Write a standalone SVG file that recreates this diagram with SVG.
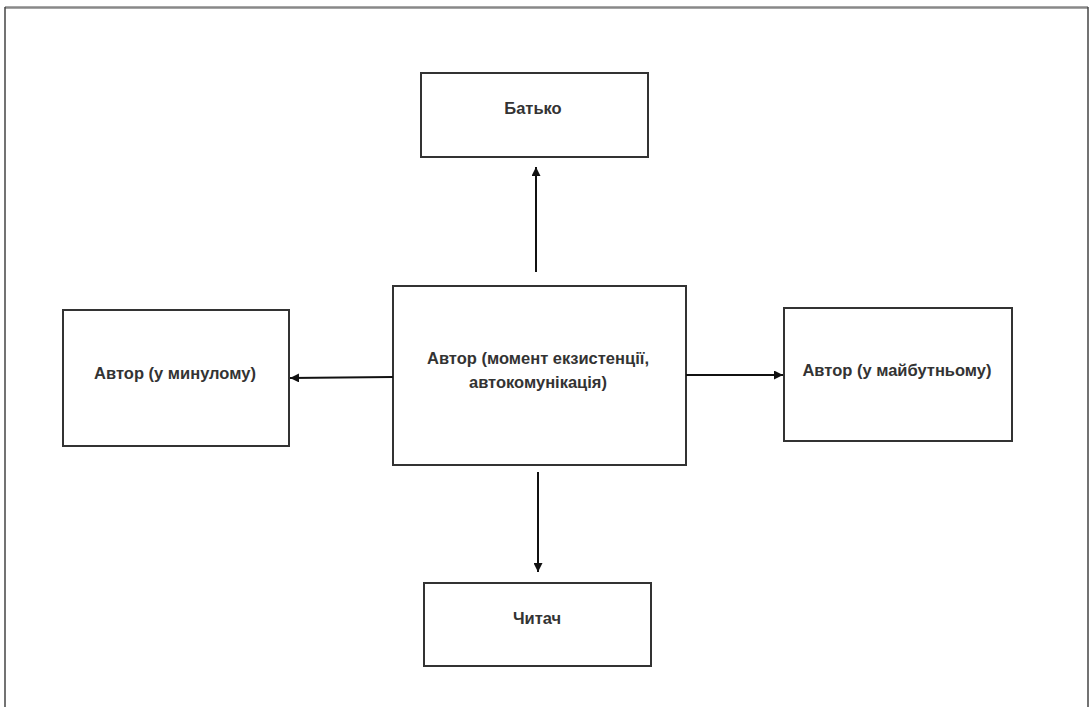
<svg xmlns="http://www.w3.org/2000/svg" width="1091" height="707" viewBox="0 0 1091 707">
<defs>
<marker id="arr" viewBox="0 0 10 10" refX="10" refY="5" markerWidth="10" markerHeight="9" markerUnits="userSpaceOnUse" orient="auto">
<path d="M0,0 L10,5 L0,10 z" fill="#111"/>
</marker>
<style>
.box{fill:#fff;stroke:#333;stroke-width:2}
.lbl{font-family:"Liberation Sans",Arial,sans-serif;font-size:16.5px;font-weight:bold;fill:#333;text-anchor:middle}
.con{stroke:#111;stroke-width:2;fill:none}
</style>
</defs>
<rect width="1091" height="707" fill="#fff"/>
<g id="frame">
<line x1="5" y1="7.5" x2="1088" y2="7.5" stroke="#888" stroke-width="2.5"/>
<line x1="5" y1="7" x2="5" y2="707" stroke="#444" stroke-width="1.5"/>
<line x1="1088" y1="7" x2="1088" y2="707" stroke="#444" stroke-width="1.5"/>
</g>
<g id="node-batko">
<rect class="box" x="421" y="73" width="227" height="84"/>
<text class="lbl" x="533" y="114">Батько</text>
</g>
<g id="node-avtor">
<rect class="box" x="393" y="286" width="293" height="179"/>
<text class="lbl" x="538" y="364">Автор (момент екзистенції,</text>
<text class="lbl" x="538" y="388">автокомунікація)</text>
</g>
<g id="node-mynule">
<rect class="box" x="63" y="310" width="226" height="136"/>
<text class="lbl" x="175" y="379">Автор (у минулому)</text>
</g>
<g id="node-maybutnie">
<rect class="box" x="784" y="308" width="228" height="133"/>
<text class="lbl" x="897" y="376">Автор (у майбутньому)</text>
</g>
<g id="node-chytach">
<rect class="box" x="424" y="583" width="227" height="83"/>
<text class="lbl" x="537" y="624">Читач</text>
</g>
<g id="connectors">
<line class="con" x1="536" y1="272" x2="536" y2="167" marker-end="url(#arr)"/>
<line class="con" x1="393" y1="377" x2="290" y2="378" marker-end="url(#arr)"/>
<line class="con" x1="686" y1="375" x2="783" y2="375" marker-end="url(#arr)"/>
<line class="con" x1="538" y1="472" x2="538" y2="572" marker-end="url(#arr)"/>
</g>
</svg>
